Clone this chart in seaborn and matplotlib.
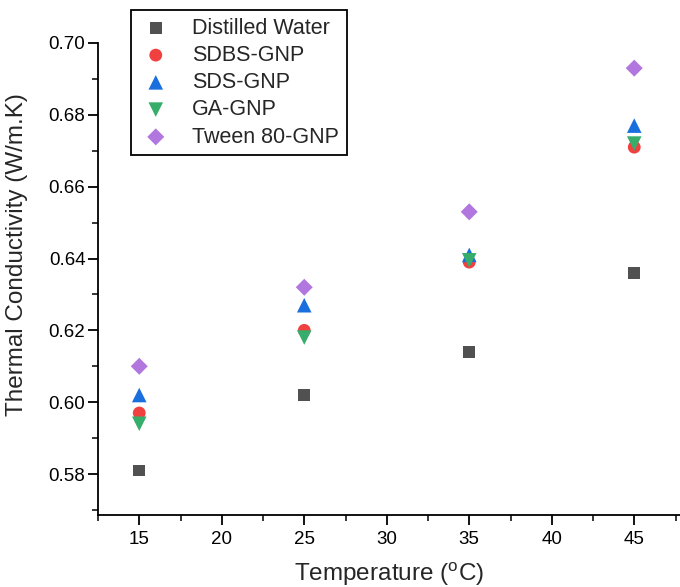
import numpy as np
import pandas as pd
import matplotlib
matplotlib.use('Agg')
import matplotlib.pyplot as plt
from matplotlib.ticker import MultipleLocator
import seaborn as sns

# Thermal conductivity
temperature = [15, 25, 35, 45]
distilled_water = [0.581, 0.602, 0.614, 0.636]
sdbs_gnp = [0.597, 0.620, 0.639, 0.671]
sds_gnp = [0.602, 0.627, 0.641, 0.677]
ga_gnp = [0.594, 0.618, 0.6395, 0.672]
tween80_gnp = [0.610, 0.632, 0.653, 0.693]

series_names = ['Distilled Water', 'SDBS-GNP', 'SDS-GNP', 'GA-GNP', 'Tween 80-GNP']
series_values = [distilled_water, sdbs_gnp, sds_gnp, ga_gnp, tween80_gnp]

rows = []
for name, vals in zip(series_names, series_values):
    for t, v in zip(temperature, vals):
        rows.append({'Temperature': t, 'k': v, 'Sample': name})
df = pd.DataFrame(rows)

sns.set_style('ticks')
plt.rcParams['font.family'] = ['Liberation Sans', 'DejaVu Sans']
plt.rcParams['mathtext.fontset'] = 'custom'
plt.rcParams['mathtext.rm'] = 'Liberation Sans'

colors = ['#515151', '#F14040', '#1A6FDF', '#37AD6B', '#B177DE']
markers = ['s', 'o', '^', 'v', 'D']
sizes = {'s': 70, 'o': 85, '^': 110, 'v': 110, 'D': 75}

fig = plt.figure(figsize=(6.8, 5.87), dpi=100)
ax = fig.add_axes([98 / 680, 1 - 515 / 587, 1 - 98 / 680, (515 - 43) / 587])

for name, c, m in zip(series_names, colors, markers):
    sub = df[df['Sample'] == name]
    sns.scatterplot(data=sub, x='Temperature', y='k', ax=ax, color=c, marker=m,
                    s=sizes[m], edgecolor='none', label=name)

ax.set_xlim(12.5, 12.5 + (680 - 98) / 16.5)
ax.set_ylim(0.5686, 0.70)
ax.xaxis.set_major_locator(MultipleLocator(5))
ax.xaxis.set_minor_locator(MultipleLocator(2.5))
ax.yaxis.set_major_locator(MultipleLocator(0.02))
ax.yaxis.set_minor_locator(MultipleLocator(0.01))
ax.yaxis.set_major_formatter(matplotlib.ticker.FormatStrFormatter('%.2f'))
ax.set_xticks([15, 20, 25, 30, 35, 40, 45])

for side in ['top', 'right']:
    ax.spines[side].set_visible(False)
for side in ['left', 'bottom']:
    ax.spines[side].set_linewidth(1.3)
    ax.spines[side].set_color('black')
ax.tick_params(which='major', direction='out', length=7, width=1.3, labelsize=13.5,
               colors='black')
ax.tick_params(which='minor', direction='out', length=4, width=1.1, colors='black')
ax.tick_params(axis='x', pad=4.5)
ax.tick_params(axis='y', pad=2)

ax.set_xlabel('Temperature ($^{\\mathrm{o}}$C)', fontsize=17.5, labelpad=9)
ax.set_ylabel('Thermal Conductivity (W/m.K)', fontsize=17.5)
ax.yaxis.set_label_coords(-0.12, 0.551)

leg = ax.legend(loc='upper left', bbox_to_anchor=(131 / 680, 1 - 10 / 587),
                bbox_transform=fig.transFigure, borderaxespad=0, fontsize=15.5,
                frameon=True, fancybox=False, handletextpad=0.9, labelspacing=0.29,
                borderpad=0.35, handlelength=1.6)
leg.get_frame().set_edgecolor('black')
leg.get_frame().set_linewidth(1.3)
leg.get_frame().set_alpha(1)

fig.savefig('out.png', dpi=100)
